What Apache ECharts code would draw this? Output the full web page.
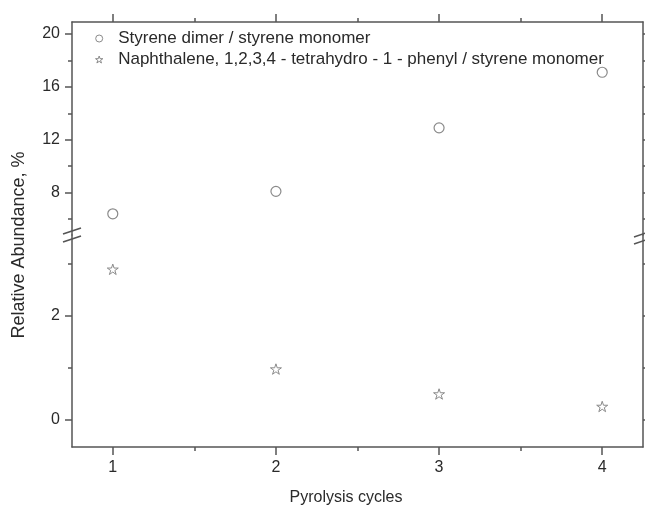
<!DOCTYPE html>
<html>
<head>
<meta charset="utf-8">
<script src="https://cdn.jsdelivr.net/npm/echarts@6/dist/echarts.min.js"></script>
<style>
html,body{margin:0;padding:0;background:#fff;}
#c{width:645px;height:508px;}
</style>
</head>
<body>
<div id="c"></div>
<script>
// ---- data ----
const cycles = [1, 2, 3, 4];
const dimerRatio = [6.4, 8.1, 12.9, 17.1];
const naphRatio = [2.9, 0.98, 0.5, 0.26];
const seriesNames = ['Styrene dimer / styrene monomer',
  'Naphthalene, 1,2,3,4 - tetrahydro - 1 - phenyl / styrene monomer'];
const xTicks = [1, 2, 3, 4];
const xMinorTicks = [1.5, 2.5, 3.5];
const upperTicks = [8, 12, 16, 20];
const upperMinorTicks = [6, 10, 14, 18];
const lowerTicks = [0, 2];
const lowerMinorTicks = [1, 3];
const xTitle = 'Pyrolysis cycles';
const yTitle = 'Relative Abundance, %';

const FONT = '"Liberation Sans", Arial, sans-serif';
const AX = '#555';
const TXT = '#2a2a2a';
const MK = '#8a8a8a';
const STAR = 'path://M0,-100 L22.45,-30.9 L95.1,-30.9 L36.3,11.8 L58.8,80.9 L0,38.2 L-58.8,80.9 L-36.3,11.8 L-95.1,-30.9 L-22.45,-30.9 Z';

function axis(o) {
  return Object.assign({
    type: 'value',
    splitLine: { show: false },
    axisLine: { show: o.line !== false, onZero: false, lineStyle: { color: AX, width: 1.5 } },
    axisTick: { show: true, customValues: o.ticks, length: o.len || 7, lineStyle: { color: AX, width: 1.5 } },
    axisLabel: o.labels ? { show: true, customValues: o.ticks, fontSize: 16, fontFamily: FONT, color: TXT, margin: o.margin || 10 } : { show: false }
  }, o.extra);
}

const dimerPoints = cycles.map((c, i) => [c, dimerRatio[i]]);
const naphPoints = cycles.map((c, i) => [c, naphRatio[i]]);

const option = {
  animation: false,
  backgroundColor: '#fff',
  grid: [
    { left: 72, right: 2, top: 22, height: 213 },
    { left: 72, right: 2, top: 235, height: 212 }
  ],
  xAxis: [
    axis({ ticks: xTicks, len: 8, extra: { gridIndex: 0, position: 'top', min: 0.75, max: 4.25 } }),
    axis({ ticks: xMinorTicks, len: 4, line: false, extra: { gridIndex: 0, position: 'top', min: 0.75, max: 4.25 } }),
    axis({ ticks: xTicks, len: 8, labels: true, margin: 13, extra: { gridIndex: 1, position: 'bottom', min: 0.75, max: 4.25 } }),
    axis({ ticks: xMinorTicks, len: 4, line: false, extra: { gridIndex: 1, position: 'bottom', min: 0.75, max: 4.25 } })
  ],
  yAxis: [
    axis({ ticks: upperTicks, len: 7, labels: true, margin: 12, extra: { gridIndex: 0, position: 'left', min: 4.8, max: 20.9 } }),
    axis({ ticks: upperMinorTicks, len: 4, line: false, extra: { gridIndex: 0, position: 'left', min: 4.8, max: 20.9 } }),
    axis({ ticks: upperTicks.concat(upperMinorTicks), len: 3, extra: { gridIndex: 0, position: 'right', min: 4.8, max: 20.9 } }),
    axis({ ticks: lowerTicks, len: 7, labels: true, margin: 12, extra: { gridIndex: 1, position: 'left', min: -0.52, max: 3.56 } }),
    axis({ ticks: lowerMinorTicks, len: 4, line: false, extra: { gridIndex: 1, position: 'left', min: -0.52, max: 3.56 } }),
    axis({ ticks: lowerTicks.concat(lowerMinorTicks), len: 3, extra: { gridIndex: 1, position: 'right', min: -0.52, max: 3.56 } })
  ],
  legend: {
    orient: 'vertical',
    left: 90,
    top: 25,
    itemWidth: 28,
    itemHeight: 7,
    itemGap: 4,
    symbolKeepAspect: true,
    itemStyle: { color: '#fff', borderColor: MK, borderWidth: 1 },
    textStyle: { fontSize: 17, fontFamily: FONT, color: TXT, lineHeight: 17 },
    data: [seriesNames[0], seriesNames[1]]
  },
  series: [
    {
      name: seriesNames[0], type: 'scatter', xAxisIndex: 0, yAxisIndex: 0,
      symbol: 'circle', symbolSize: 10,
      itemStyle: { color: '#fff', borderColor: MK, borderWidth: 1.2, opacity: 1 },
      data: dimerPoints
    },
    {
      name: seriesNames[1], type: 'scatter', xAxisIndex: 2, yAxisIndex: 3,
      symbol: STAR, symbolSize: 11, symbolKeepAspect: true,
      itemStyle: { color: '#fff', borderColor: MK, borderWidth: 1, opacity: 1 },
      data: naphPoints
    }
  ],
  graphic: [
    { type: 'line', shape: { x1: 63, y1: 234, x2: 81, y2: 228 }, style: { stroke: AX, lineWidth: 1.5 }, z: 100 },
    { type: 'line', shape: { x1: 63, y1: 242, x2: 81, y2: 236 }, style: { stroke: AX, lineWidth: 1.5 }, z: 100 },
    { type: 'line', shape: { x1: 634, y1: 237, x2: 652, y2: 231 }, style: { stroke: AX, lineWidth: 1.5 }, z: 100 },
    { type: 'line', shape: { x1: 634, y1: 244, x2: 652, y2: 238 }, style: { stroke: AX, lineWidth: 1.5 }, z: 100 },
    { type: 'text', x: 346, y: 498, style: { text: xTitle, fontSize: 16, fontFamily: FONT, fill: TXT, align: 'center', verticalAlign: 'middle' } },
    { type: 'text', x: 19, y: 245, rotation: Math.PI / 2, style: { text: yTitle, fontSize: 18, fontFamily: FONT, fill: TXT, align: 'center', verticalAlign: 'middle' } }
  ]
};

const chart = echarts.init(document.getElementById('c'), null, { renderer: 'canvas' });
chart.setOption(option);
</script>
</body>
</html>
